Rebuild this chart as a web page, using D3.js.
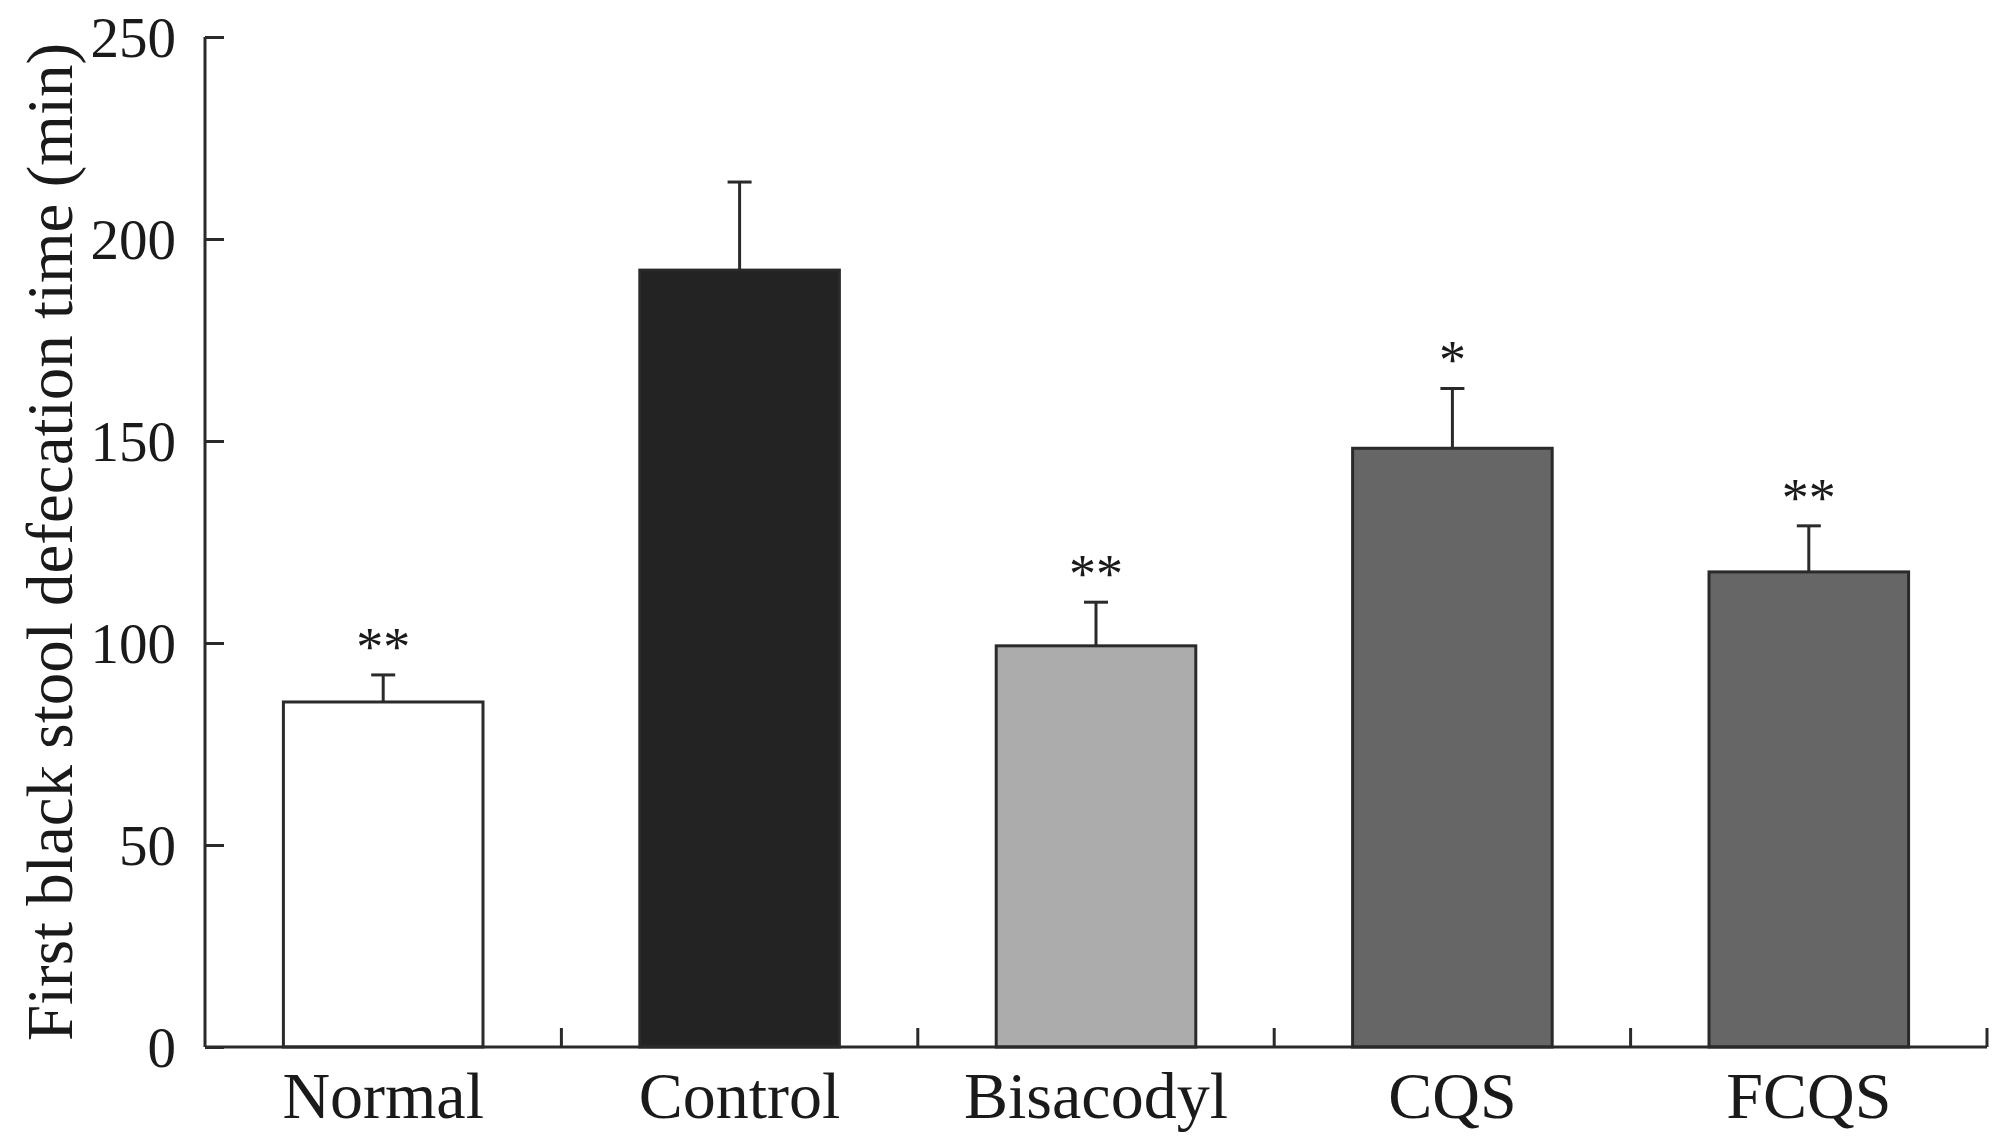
<!DOCTYPE html>
<html>
<head>
<meta charset="utf-8">
<script src="https://cdn.jsdelivr.net/npm/d3@7"></script>
<style>
	body { margin: 0; background: #fff; }
	svg text { font-family: "Liberation Serif", "Times New Roman", serif; fill: #1a1a1a; }
</style>
</head>
<body>
<svg width="2008" height="1145"></svg>
<script>
var groups = ['Normal', 'Control', 'Bisacodyl', 'CQS', 'FCQS'];
var means = [85.4, 192.3, 99.3, 148.2, 117.6];
var errors = [6.7, 21.8, 10.8, 14.8, 11.4];
var marks = ['**', '', '**', '*', '**'];
var fills = ['#ffffff', '#232323', '#acacac', '#666666', '#666666'];
var yTicks = [0, 50, 100, 150, 200, 250];

var svg = d3.select('svg'),
	margin = {top: 37, right: 21, bottom: 98, left: 205},
	width = 2008 - margin.left - margin.right,
	height = 1145 - margin.top - margin.bottom,
	g = svg.append('g').attr('transform', 'translate(' + margin.left + ',' + margin.top + ')');

var x = d3.scaleBand()
	.domain(groups)
	.range([0, width])
	.paddingInner(0.44)
	.paddingOuter(0.22);

var y = d3.scaleLinear()
	.domain([0, 250])
	.range([height, 0]);

var data = groups.map(function(d, i) {
	return {name: d, mean: means[i], err: errors[i], mark: marks[i], fill: fills[i]};
});

// bars
g.selectAll('.bar')
	.data(data)
	.enter().append('rect')
	.attr('x', function(d) { return x(d.name); })
	.attr('y', function(d) { return y(d.mean); })
	.attr('width', x.bandwidth())
	.attr('height', function(d) { return height - y(d.mean); })
	.attr('fill', function(d) { return d.fill; })
	.attr('stroke', '#2a2a2a')
	.attr('stroke-width', 3);

// error bars (upper only)
var eb = g.selectAll('.err')
	.data(data)
	.enter().append('g');
eb.append('line')
	.attr('x1', function(d) { return x(d.name) + x.bandwidth() / 2; })
	.attr('x2', function(d) { return x(d.name) + x.bandwidth() / 2; })
	.attr('y1', function(d) { return y(d.mean); })
	.attr('y2', function(d) { return y(d.mean + d.err); })
	.attr('stroke', '#2a2a2a')
	.attr('stroke-width', 3);
eb.append('line')
	.attr('x1', function(d) { return x(d.name) + x.bandwidth() / 2 - 12; })
	.attr('x2', function(d) { return x(d.name) + x.bandwidth() / 2 + 12; })
	.attr('y1', function(d) { return y(d.mean + d.err); })
	.attr('y2', function(d) { return y(d.mean + d.err); })
	.attr('stroke', '#2a2a2a')
	.attr('stroke-width', 3);
eb.append('text')
	.attr('x', function(d) { return x(d.name) + x.bandwidth() / 2; })
	.attr('y', function(d) { return y(d.mean + d.err) - 10; })
	.attr('text-anchor', 'middle')
	.attr('font-size', 54)
	.text(function(d) { return d.mark; });

// y axis
var yAxis = g.append('g')
	.call(d3.axisRight(y).tickValues(yTicks).tickSize(19).tickFormat(d3.format('d')));
yAxis.select('.domain')
	.attr('d', 'M0,0V' + height)
	.attr('stroke', '#2a2a2a')
	.attr('stroke-width', 3);
yAxis.selectAll('.tick line')
	.attr('stroke', '#2a2a2a')
	.attr('stroke-width', 3);
yAxis.selectAll('.tick text')
	.attr('x', -29)
	.attr('dy', '0.34em')
	.attr('text-anchor', 'end')
	.attr('font-size', 57)
	.attr('font-family', null)
	.attr('fill', '#1a1a1a');

// x axis with inward ticks at group boundaries
var bounds = groups.map(function(d) { return x(d) + x.bandwidth() + x.step() * x.paddingInner() / 2; });
var xg = g.append('g').attr('transform', 'translate(0,' + height + ')');
xg.append('line')
	.attr('x1', 0).attr('x2', width)
	.attr('stroke', '#2a2a2a')
	.attr('stroke-width', 3);
xg.selectAll('.bt')
	.data(bounds)
	.enter().append('line')
	.attr('x1', function(d) { return d; })
	.attr('x2', function(d) { return d; })
	.attr('y1', 0).attr('y2', -19)
	.attr('stroke', '#2a2a2a')
	.attr('stroke-width', 3);
xg.selectAll('.lab')
	.data(groups)
	.enter().append('text')
	.attr('x', function(d) { return x(d) + x.bandwidth() / 2; })
	.attr('y', 71)
	.attr('text-anchor', 'middle')
	.attr('font-size', 66)
	.text(function(d) { return d; });

// y label
svg.append('text')
	.attr('transform', 'translate(72,' + (margin.top + height / 2) + ') rotate(-90)')
	.attr('text-anchor', 'middle')
	.attr('font-size', 65)
	.text('First black stool defecation time (min)');
</script>
</body>
</html>
